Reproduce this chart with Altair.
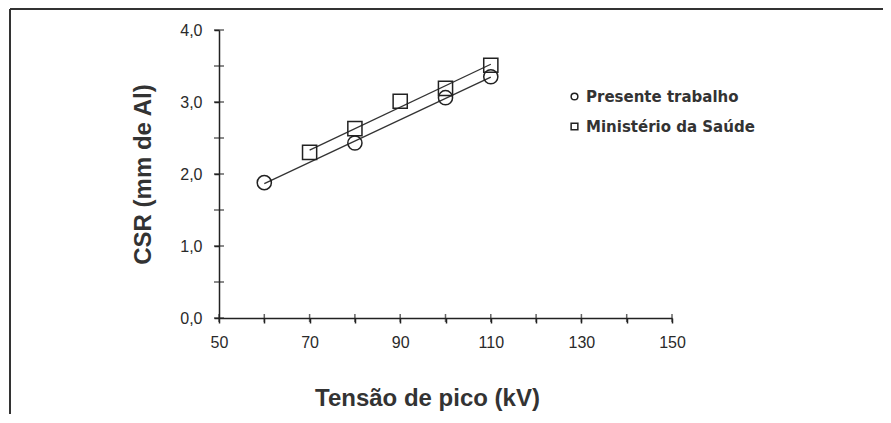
import altair as alt
import pandas as pd

# Data
pt_kv = [60, 80, 100, 110]
pt_csr = [1.88, 2.43, 3.06, 3.35]
ms_kv = [70, 80, 90, 100, 110]
ms_csr = [2.30, 2.63, 3.01, 3.19, 3.51]
series = ["Presente trabalho", "Ministério da Saúde"]

x_ticks = [50, 60, 70, 80, 90, 100, 110, 120, 130, 140, 150]
y_ticks = [0, 0.5, 1, 1.5, 2, 2.5, 3, 3.5, 4]

df = pd.DataFrame({
    "kv": pt_kv + ms_kv,
    "csr": pt_csr + ms_csr,
    "serie": [series[0]] * len(pt_kv) + [series[1]] * len(ms_kv),
})
xt_df = pd.DataFrame({"kv": x_ticks, "csr": [0] * len(x_ticks)})
yt_df = pd.DataFrame({"csr": y_ticks, "kv": [50] * len(y_ticks)})

W, H = 453, 288
INK = "#222"

x_enc = alt.X("kv:Q", scale=alt.Scale(domain=[50, 150], nice=False),
              axis=alt.Axis(values=x_ticks, title="Tensão de pico (kV)",
                            labelExpr="datum.value % 20 == 10 ? datum.label : ''",
                            grid=False, tickSize=5, labelPadding=11,
                            labelFont="Liberation Sans", labelFontSize=16, labelColor="#2a2a2a",
                            titleFont="Liberation Sans", titleFontSize=24, titleFontWeight="bold",
                            titleColor="#333", titlePadding=36, titleX=208,
                            domainColor=INK, domainWidth=1.5, tickColor=INK, tickWidth=1.5,
                            labelFlush=False))
y_enc = alt.Y("csr:Q", scale=alt.Scale(domain=[0, 4], nice=False),
              axis=alt.Axis(values=y_ticks, title="CSR (mm de Al)",
                            labelExpr="datum.value % 1 == 0 ? replace(format(datum.value, '.1f'), '.', ',') : ''",
                            grid=False, tickSize=5, labelPadding=12,
                            labelFont="Liberation Sans", labelFontSize=16, labelColor="#2a2a2a",
                            titleFont="Liberation Sans", titleFontSize=24, titleFontWeight="bold",
                            titleColor="#333", titlePadding=24,
                            domainColor=INK, domainWidth=1.5, tickColor=INK, tickWidth=1.5,
                            labelFlush=False))

base = alt.Chart(df)

lines = base.transform_regression("kv", "csr", groupby=["serie"]).mark_line(
    color="#333", strokeWidth=1.3).encode(x=x_enc, y=y_enc, detail="serie:N")

points = base.mark_point(filled=False, color=INK, strokeWidth=1.5, opacity=1, size=200).encode(
    x=x_enc, y=y_enc,
    shape=alt.Shape("serie:N", scale=alt.Scale(domain=series, range=["circle", "square"]),
                    legend=alt.Legend(title=None, orient="none", legendX=348, legendY=59,
                                      symbolSize=45, symbolStrokeColor=INK, symbolStrokeWidth=1.5,
                                      symbolFillColor="white", labelLimit=400,
                                      labelFont="DejaVu Sans", labelFontSize=15, labelFontWeight="bold",
                                      labelColor="#333", rowPadding=14, labelOffset=4)),
)

# inner halves of the crossing ticks
x_inner = alt.Chart(xt_df).mark_tick(orient="vertical", color=INK, thickness=1.5, size=8).encode(
    x=alt.X("kv:Q"), y=alt.Y("csr:Q"))
y_inner = alt.Chart(yt_df).mark_tick(orient="horizontal", color=INK, thickness=1.5, size=10).encode(
    x=alt.X("kv:Q"), y=alt.Y("csr:Q"))

# border around the figure (decoration)
one = pd.DataFrame({"a": [0]})
frame_top = alt.Chart(one).mark_rule(color="#333", strokeWidth=2).encode(
    x=alt.value(-209), x2=alt.value(666), y=alt.value(-21))
frame_left = alt.Chart(one).mark_rule(color="#333", strokeWidth=2).encode(
    x=alt.value(-209), y=alt.value(-21), y2=alt.value(400))
frame_right = alt.Chart(one).mark_rule(color="#333", strokeWidth=2).encode(
    x=alt.value(666), y=alt.value(-21), y2=alt.value(400))

chart = alt.layer(lines, points, x_inner, y_inner, frame_top, frame_left, frame_right).properties(
    width=W, height=H,
    autosize=alt.AutoSizeParams(type="none"),
    padding={"left": 211, "top": 22, "right": 211, "bottom": 96},
    background="white",
).configure_view(stroke=None)

chart.save("out.html", embed_options={"renderer": "svg", "actions": False})
